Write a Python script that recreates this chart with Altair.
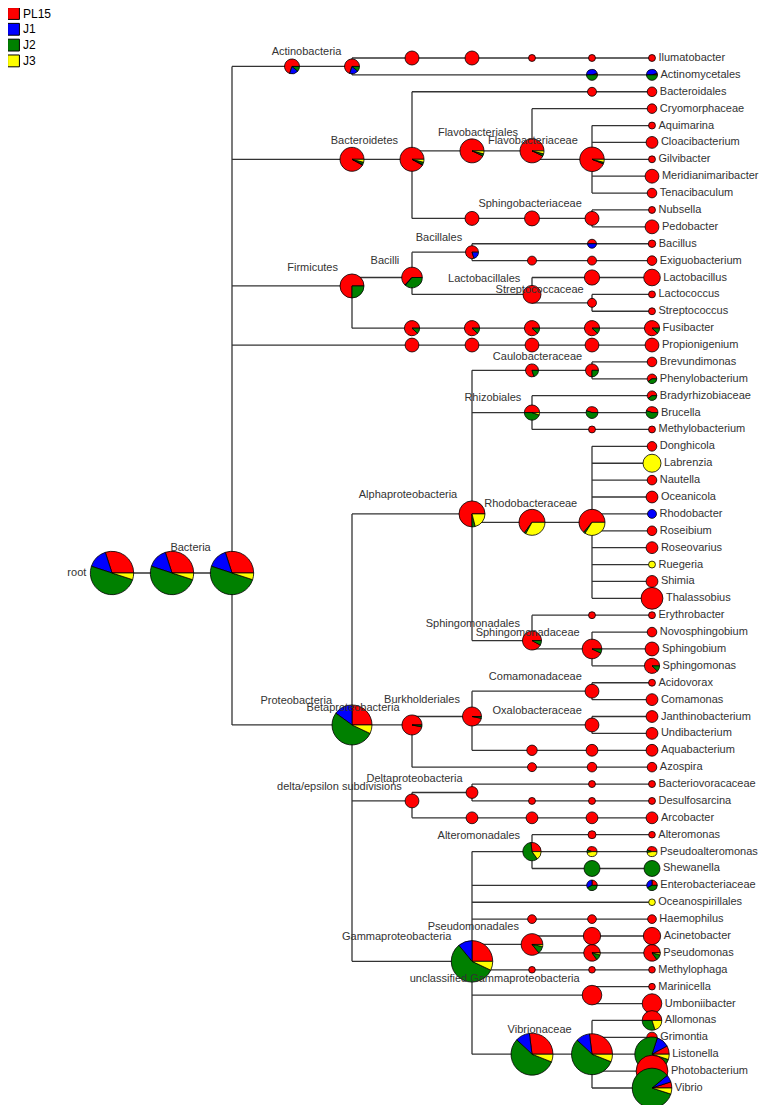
import math
import altair as alt
import pandas as pd

# ---------------- data -----------------
SAMPLES = ["PL15", "J1", "J2", "J3"]
SAMPLE_COLORS = ["#ff0000", "#0000ff", "#008000", "#ffff00"]

RED = (100, 0, 0, 0)
YEL = (0, 0, 0, 100)
GRN = (0, 0, 100, 0)
BLU = (0, 100, 0, 0)

# (node, parent, label, reads, (PL15 %, J1 %, J2 %, J3 %)) - listed depth first
core_nodes = [
    ("root", None, "root", 4700, (30, 15, 50, 5)),
    ("bacteria1", "root", "", 4700, (30, 15, 50, 5)),
    ("bacteria2", "bacteria1", "Bacteria", 4700, (30, 15, 50, 5)),
]
actino_nodes = [
    ("actino0", "bacteria2", "", 560, (70, 19, 11, 0)),
    ("actino1", "actino0", "Actinobacteria", 560, (70, 19, 11, 0)),
    ("actino2", "actino1", "", 490, RED),
    ("actino3", "actino2", "", 490, RED),
    ("actino4", "actino3", "", 120, RED),
    ("actino5", "actino4", "", 120, RED),
    ("Ilumatobacter", "actino5", "Ilumatobacter", 120, RED),
    ("actino6", "actino1", "", 300, (5, 45, 50, 0)),
    ("Actinomycetales", "actino6", "Actinomycetales", 300, (5, 45, 50, 0)),
]
bacteroid_nodes = [
    ("bact0", "bacteria2", "", 1440, (92, 1, 3, 4)),
    ("bact1", "bact0", "Bacteroidetes", 1440, (92, 1, 3, 4)),
    ("bact2", "bact1", "", 200, RED),
    ("Bacteroidales", "bact2", "Bacteroidales", 230, RED),
    ("flavo0", "bact1", "", 1440, (93, 0, 3, 4)),
    ("flavo1", "flavo0", "Flavobacteriales", 1440, (93, 0, 3, 4)),
    ("Cryomorphaceae", "flavo1", "Cryomorphaceae", 230, RED),
    ("flavo2", "flavo1", "Flavobacteriaceae", 1500, (94, 0, 2, 4)),
    ("Aquimarina", "flavo2", "Aquimarina", 120, RED),
    ("Cloacibacterium", "flavo2", "Cloacibacterium", 350, RED),
    ("Gilvibacter", "flavo2", "Gilvibacter", 120, RED),
    ("Meridianimaribacter", "flavo2", "Meridianimaribacter", 480, RED),
    ("Tenacibaculum", "flavo2", "Tenacibaculum", 230, RED),
    ("sphb0", "bact1", "", 490, RED),
    ("sphb1", "sphb0", "", 560, RED),
    ("sphb2", "sphb1", "Sphingobacteriaceae", 490, RED),
    ("Nubsella", "sphb2", "Nubsella", 120, RED),
    ("Pedobacter", "sphb2", "Pedobacter", 480, RED),
]
firmicute_nodes = [
    ("firm", "bacteria2", "Firmicutes", 1440, (75, 0, 25, 0)),
    ("bacilli", "firm", "Bacilli", 1060, (63, 1, 36, 0)),
    ("bacillales", "bacilli", "Bacillales", 420, (80, 20, 0, 0)),
    ("bacil1", "bacillales", "", 200, (50, 50, 0, 0)),
    ("Bacillus", "bacil1", "Bacillus", 140, RED),
    ("exig1", "bacillales", "", 200, RED),
    ("exig2", "exig1", "", 200, RED),
    ("Exiguobacterium", "exig2", "Exiguobacterium", 230, RED),
    ("lacto", "bacilli", "Lactobacillales", 810, RED),
    ("lacto1", "lacto", "", 580, RED),
    ("Lactobacillus", "lacto1", "Lactobacillus", 690, RED),
    ("strep", "lacto", "Streptococcaceae", 200, RED),
    ("Lactococcus", "strep", "Lactococcus", 120, RED),
    ("Streptococcus", "strep", "Streptococcus", 120, RED),
    ("fus1", "firm", "", 580, (88, 0, 12, 0)),
    ("fus2", "fus1", "", 580, (88, 0, 12, 0)),
    ("fus3", "fus2", "", 580, (88, 0, 12, 0)),
    ("fus4", "fus3", "", 580, (88, 0, 12, 0)),
    ("Fusibacter", "fus4", "Fusibacter", 580, (88, 0, 12, 0)),
]
fuso_nodes = [
    ("prop1", "bacteria2", "", 480, RED),
    ("prop2", "prop1", "", 480, RED),
    ("prop3", "prop2", "", 480, RED),
    ("prop4", "prop3", "", 480, RED),
    ("Propionigenium", "prop4", "Propionigenium", 480, RED),
]
alpha_nodes = [
    ("proteo", "bacteria2", "Proteobacteria", 4000, (25, 15, 53, 7)),
    ("alpha", "proteo", "Alphaproteobacteria", 1690, (75, 0, 4, 21)),
    ("caulo0", "alpha", "", 420, (80, 0, 20, 0)),
    ("caulo1", "caulo0", "Caulobacteraceae", 420, (75, 0, 25, 0)),
    ("Brevundimonas", "caulo1", "Brevundimonas", 230, RED),
    ("Phenylobacterium", "caulo1", "Phenylobacterium", 230, (60, 0, 40, 0)),
    ("rhizo", "alpha", "Rhizobiales", 580, (50, 0, 45, 5)),
    ("Bradyrhizobiaceae", "rhizo", "Bradyrhizobiaceae", 230, (60, 0, 40, 0)),
    ("bruc1", "rhizo", "", 350, (45, 0, 55, 0)),
    ("Brucella", "bruc1", "Brucella", 350, (45, 0, 55, 0)),
    ("methb1", "rhizo", "", 120, RED),
    ("Methylobacterium", "methb1", "Methylobacterium", 120, RED),
    ("rhodo0", "alpha", "", 1690, (65, 0, 2, 33)),
    ("rhodo1", "rhodo0", "Rhodobacteraceae", 1690, (64, 0, 2, 34)),
    ("Donghicola", "rhodo1", "Donghicola", 230, RED),
    ("Labrenzia", "rhodo1", "Labrenzia", 810, YEL),
    ("Nautella", "rhodo1", "Nautella", 230, RED),
    ("Oceanicola", "rhodo1", "Oceanicola", 350, RED),
    ("Rhodobacter", "rhodo1", "Rhodobacter", 200, BLU),
    ("Roseibium", "rhodo1", "Roseibium", 230, RED),
    ("Roseovarius", "rhodo1", "Roseovarius", 350, RED),
    ("Ruegeria", "rhodo1", "Ruegeria", 120, YEL),
    ("Shimia", "rhodo1", "Shimia", 350, RED),
    ("Thalassobius", "rhodo1", "Thalassobius", 1190, RED),
    ("sphm0", "alpha", "Sphingomonadales", 900, (92, 0, 8, 0)),
    ("eryth1", "sphm0", "", 120, RED),
    ("Erythrobacter", "eryth1", "Erythrobacter", 120, RED),
    ("sphm1", "sphm0", "Sphingomonadaceae", 960, (93, 0, 7, 0)),
    ("Novosphingobium", "sphm1", "Novosphingobium", 230, RED),
    ("Sphingobium", "sphm1", "Sphingobium", 480, RED),
    ("Sphingomonas", "sphm1", "Sphingomonas", 580, (88, 0, 12, 0)),
]
beta_nodes = [
    ("beta", "proteo", "Betaproteobacteria", 1000, (97, 0, 3, 0)),
    ("burk", "beta", "Burkholderiales", 900, (97, 0, 3, 0)),
    ("comam", "burk", "Comamonadaceae", 480, RED),
    ("Acidovorax", "comam", "Acidovorax", 120, RED),
    ("Comamonas", "comam", "Comamonas", 350, RED),
    ("oxalo", "burk", "Oxalobacteraceae", 480, RED),
    ("Janthinobacterium", "oxalo", "Janthinobacterium", 350, RED),
    ("Undibacterium", "oxalo", "Undibacterium", 350, RED),
    ("aqua1", "burk", "", 270, RED),
    ("aqua2", "aqua1", "", 350, RED),
    ("Aquabacterium", "aqua2", "Aquabacterium", 350, RED),
    ("azo1", "beta", "", 200, RED),
    ("azo2", "azo1", "", 230, RED),
    ("Azospira", "azo2", "Azospira", 230, RED),
]
deltaeps_nodes = [
    ("delteps", "proteo", "delta/epsilon subdivisions", 480, RED),
    ("delta", "delteps", "Deltaproteobacteria", 350, RED),
    ("bdello1", "delta", "", 120, RED),
    ("Bacteriovoracaceae", "bdello1", "Bacteriovoracaceae", 120, RED),
    ("desulf1", "delta", "", 120, RED),
    ("desulf2", "desulf1", "", 120, RED),
    ("Desulfosarcina", "desulf2", "Desulfosarcina", 120, RED),
    ("eps1", "delteps", "", 350, RED),
    ("eps2", "eps1", "", 350, RED),
    ("eps3", "eps2", "", 350, RED),
    ("Arcobacter", "eps3", "Arcobacter", 350, RED),
]
gamma_nodes = [
    ("gamma", "proteo", "Gammaproteobacteria", 4300, (25, 11, 57, 7)),
    ("altero", "gamma", "Alteromonadales", 840, (27, 0, 58, 15)),
    ("alt1", "altero", "", 160, RED),
    ("Alteromonas", "alt1", "Alteromonas", 110, RED),
    ("palt1", "altero", "", 250, (45, 0, 8, 47)),
    ("Pseudoalteromonas", "palt1", "Pseudoalteromonas", 250, (45, 0, 8, 47)),
    ("shew1", "altero", "", 640, GRN),
    ("Shewanella", "shew1", "Shewanella", 640, GRN),
    ("entero1", "gamma", "", 280, (25, 33, 42, 0)),
    ("Enterobacteriaceae", "entero1", "Enterobacteriaceae", 280, (25, 33, 42, 0)),
    ("Oceanospirillales", "gamma", "Oceanospirillales", 110, YEL),
    ("past1", "gamma", "", 190, RED),
    ("past2", "past1", "", 190, RED),
    ("Haemophilus", "past2", "Haemophilus", 190, RED),
    ("pseudo", "gamma", "Pseudomonadales", 1170, (86, 0, 11, 3)),
    ("morax", "pseudo", "", 750, RED),
    ("Acinetobacter", "morax", "Acinetobacter", 750, RED),
    ("psdm", "pseudo", "", 690, (85, 0, 11, 4)),
    ("Pseudomonas", "psdm", "Pseudomonas", 690, (85, 0, 11, 4)),
    ("methp1", "gamma", "", 110, RED),
    ("methp2", "methp1", "", 110, RED),
    ("Methylophaga", "methp2", "Methylophaga", 110, RED),
    ("uncl", "gamma", "unclassified Gammaproteobacteria", 960, RED),
    ("Marinicella", "uncl", "Marinicella", 110, RED),
    ("Umboniibacter", "uncl", "Umboniibacter", 960, RED),
    ("vibr0", "gamma", "", 4400, (27, 11, 56, 6)),
    ("vibr1", "vibr0", "Vibrionaceae", 4200, (27, 11, 56, 6)),
    ("Allomonas", "vibr1", "Allomonas", 960, (50, 0, 30, 20)),
    ("Grimontia", "vibr1", "Grimontia", 270, RED),
    ("Listonella", "vibr1", "Listonella", 2960, (8, 12, 75, 5)),
    ("Photobacterium", "vibr1", "Photobacterium", 2530, RED),
    ("Vibrio", "vibr1", "Vibrio", 3920, (5, 6, 84, 5)),
]

# ---------------- layout (styling constants) -----------------
W, H = 753, 1097          # plot area (page minus 8px margins)
COL_PX, ROW_PX = 60.0, 16.885
X0, Y0 = 104.0, 50.0      # pixel position of depth 0 / first leaf row
R_MAX, AB_MAX = 22.0, 4840.0
FONT = "Liberation Sans"
INK = "#333333"

nodes = (core_nodes + actino_nodes + bacteroid_nodes + firmicute_nodes + fuso_nodes
         + alpha_nodes + beta_nodes + deltaeps_nodes + gamma_nodes)
ids = [n[0] for n in nodes]
info = {n[0]: n for n in nodes}
children = {i: [] for i in ids}
for n in nodes:
    if n[1] is not None:
        children[n[1]].append(n[0])

def height(i):
    return 0 if not children[i] else 1 + max(height(c) for c in children[i])

H_ROOT = height("root")
col = {i: H_ROOT - height(i) for i in ids}

leaf_rows = {}
counter = [0]
def assign(i):
    if not children[i]:
        leaf_rows[i] = [counter[0]]
        counter[0] += 1
    else:
        rows = []
        for c in children[i]:
            assign(c)
            rows += leaf_rows[c]
        leaf_rows[i] = rows
assign("root")
row = {i: sum(leaf_rows[i]) / len(leaf_rows[i]) for i in ids}

def radius(ab):
    return R_MAX * math.sqrt(ab / AB_MAX)

edges = []
for i in ids:
    p = info[i][1]
    if p is not None:
        edges.append(dict(x=col[p], x2=col[i], y=row[i], y2=row[i]))
    if children[i]:
        ys = [row[c] for c in children[i]]
        if max(ys) > min(ys):
            edges.append(dict(x=col[i], x2=col[i], y=min(ys), y2=max(ys)))
edges_df = pd.DataFrame(edges)

slices = []
for i in ids:
    mix = info[i][4]
    tot = float(sum(mix))
    cum = 0.0
    for s, v in zip(SAMPLES, mix):
        if v <= 0:
            continue
        a0 = math.pi / 2 - 2 * math.pi * (cum + v) / tot
        a1 = math.pi / 2 - 2 * math.pi * cum / tot
        cum += v
        slices.append(dict(node=i, sample=s, x=col[i], y=row[i], t0=a0, t1=a1, ab=info[i][3]))
slices_df = pd.DataFrame(slices)

inner_lab, leaf_lab = [], []
for i in ids:
    lab = info[i][2]
    if not lab:
        continue
    r = radius(info[i][3])
    if children[i]:
        if info[i][1] is None:
            lx, ly = col[i] - (r + 4) / COL_PX, row[i]
        else:
            lx = col[i] - (5 + 0.75 * r) / COL_PX
            ly = row[i] - (9 + 0.75 * r) / ROW_PX
        inner_lab.append(dict(lx=lx, ly=ly, label=lab))
    else:
        leaf_lab.append(dict(lx=col[i] + (r + 3) / COL_PX, ly=row[i], label=lab))
inner_df = pd.DataFrame(inner_lab)
leaf_df = pd.DataFrame(leaf_lab)

xs = alt.Scale(domain=[-X0 / COL_PX, (W - X0) / COL_PX], nice=False, zero=False)
ys = alt.Scale(domain=[-Y0 / ROW_PX, (H - Y0) / ROW_PX], nice=False, zero=False, reverse=True)

lines = alt.Chart(edges_df).mark_rule(color=INK, strokeWidth=1.3).encode(
    x=alt.X("x:Q", scale=xs, axis=None),
    x2="x2:Q",
    y=alt.Y("y:Q", scale=ys, axis=None),
    y2="y2:Q",
)

pies = alt.Chart(slices_df).mark_arc(stroke="black", strokeWidth=0.8).encode(
    x=alt.X("x:Q", scale=xs, axis=None),
    y=alt.Y("y:Q", scale=ys, axis=None),
    theta=alt.Theta("t0:Q", scale=None, stack=False),
    theta2="t1:Q",
    radius=alt.Radius("ab:Q", scale=alt.Scale(type="sqrt", domain=[0, AB_MAX], range=[0, R_MAX])),
    fill=alt.Fill(
        "sample:N",
        scale=alt.Scale(domain=SAMPLES, range=SAMPLE_COLORS),
        legend=alt.Legend(
            title=None, orient="none", legendX=-1, legendY=-1,
            symbolType="square", symbolSize=140, symbolStrokeColor="black",
            symbolStrokeWidth=1, labelFontSize=12, labelFont=FONT,
            labelColor="black", rowPadding=-1.2, labelOffset=3, padding=0,
        ),
    ),
)

inner_text = alt.Chart(inner_df).mark_text(
    align="right", baseline="middle", font=FONT, fontSize=11, color=INK
).encode(
    x=alt.X("lx:Q", scale=xs, axis=None),
    y=alt.Y("ly:Q", scale=ys, axis=None),
    text="label:N",
)

leaf_text = alt.Chart(leaf_df).mark_text(
    align="left", baseline="middle", font=FONT, fontSize=11, color=INK
).encode(
    x=alt.X("lx:Q", scale=xs, axis=None),
    y=alt.Y("ly:Q", scale=ys, axis=None),
    text="label:N",
)

chart = alt.layer(lines, pies, inner_text, leaf_text).properties(
    width=W, height=H, padding=0, autosize=alt.AutoSizeParams(type="none"),
).configure_view(stroke=None)

chart.save("out.html", embed_options={"renderer": "svg", "actions": False})
